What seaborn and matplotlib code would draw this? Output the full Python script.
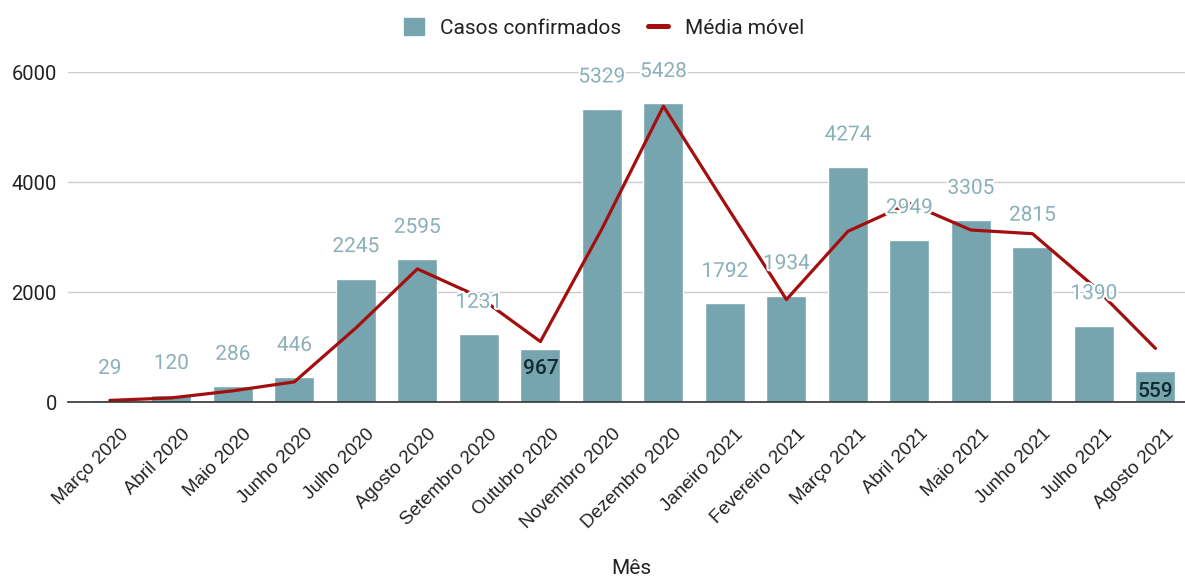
import numpy as np
import pandas as pd
import matplotlib
matplotlib.use("Agg")
import matplotlib.pyplot as plt
import matplotlib.patheffects as pe
import matplotlib.transforms as mtransforms
from matplotlib.patches import Patch
from matplotlib.lines import Line2D
import seaborn as sns

meses = ["Março 2020", "Abril 2020", "Maio 2020", "Junho 2020", "Julho 2020",
         "Agosto 2020", "Setembro 2020", "Outubro 2020", "Novembro 2020",
         "Dezembro 2020", "Janeiro 2021", "Fevereiro 2021", "Março 2021",
         "Abril 2021", "Maio 2021", "Junho 2021", "Julho 2021", "Agosto 2021"]
casos = [29, 120, 286, 446, 2245, 2595, 1231, 967, 5329, 5428, 1792, 1934,
         4274, 2949, 3305, 2815, 1390, 559]
media_movel = [29, 74.5, 203, 366, 1345.5, 2420, 1913, 1099, 3148, 5378.5,
               3610, 1863, 3104, 3611.5, 3127, 3060, 2102.5, 974.5]
y_ticks = [0, 2000, 4000, 6000]

BAR = "#76a5af"
LINE = "#a30f0f"
LABEL = "#8ab0b9"

sns.set_theme(style="white")
plt.rcParams["font.family"] = ["Roboto", "DejaVu Sans"]

df = pd.DataFrame({"Mês": meses, "Casos": casos, "Media": media_movel})
df["pos"] = np.arange(len(df))

fig = plt.figure(figsize=(11.85, 5.77), dpi=100)
ax = fig.add_axes([68 / 1185, 1 - 402 / 577, 1 - 68 / 1185, (402 - 72) / 577])

sns.barplot(data=df, x="Mês", y="Casos", order=meses, color=BAR, width=0.65,
            saturation=1, ax=ax, zorder=2)
sns.lineplot(data=df, x="pos", y="Media", color=LINE, linewidth=2.3, ax=ax,
             zorder=3)

ax.set_ylim(0, 6000)
ax.set_xlim(-0.68, len(meses) - 1 + 0.48)
ax.set_yticks(y_ticks)
ax.set_yticklabels([str(t) for t in y_ticks])
ax.grid(axis="y", color="#cccccc", linewidth=1, zorder=0)
ax.set_axisbelow(True)
for s in ["left", "right", "top"]:
    ax.spines[s].set_visible(False)
ax.spines["bottom"].set_color("#333333")
ax.spines["bottom"].set_linewidth(1.2)
ax.spines["bottom"].set_zorder(5)
ax.tick_params(axis="y", length=0, pad=8, labelsize=14.5, labelcolor="#222222")
ax.tick_params(axis="x", length=0, pad=4)
ax.set_xticks(range(len(meses)))
ax.set_xticklabels(meses, rotation=45, ha="right", rotation_mode="anchor",
                   family=["Liberation Sans", "DejaVu Sans"], fontsize=13.5,
                   color="#222222")
shift = mtransforms.ScaledTranslation(10 / 100, -18 / 100, fig.dpi_scale_trans)
for lbl in ax.get_xticklabels():
    lbl.set_transform(lbl.get_transform() + shift)

ax.set_ylabel("")
ax.set_xlabel("Mês", fontsize=15, color="#222222")
ax.xaxis.label.set_va("center")
ax.xaxis.set_label_coords((631 - 68) / 1117, -(568 - 402) / 330)

inside = {7, 17}
for i, v in enumerate(casos):
    if i in inside:
        ax.annotate(str(v), (i, v), xytext=(0, -14.5), textcoords="offset points",
                    ha="center", va="center", fontsize=15, color="#102a30",
                    fontweight="medium", zorder=6)
    else:
        ax.annotate(str(v), (i, v), xytext=(0, 23), textcoords="offset points",
                    ha="center", va="center", fontsize=15, color=LABEL,
                    zorder=6, annotation_clip=False,
                    path_effects=[pe.withStroke(linewidth=3, foreground="white")])

handles = [Patch(facecolor=BAR, edgecolor=BAR, label="Casos confirmados"),
           Line2D([0], [0], color=LINE, linewidth=3.6, label="Média móvel")]
fig.legend(handles=handles, loc="center", bbox_to_anchor=(604 / 1185, 1 - 28 / 577),
           ncol=2, frameon=False, fontsize=15, handlelength=0.95, handleheight=0.87,
           columnspacing=1.3, handletextpad=0.8, labelcolor="#222222",
           borderpad=0, borderaxespad=0)

fig.savefig("out.png", dpi=100)
